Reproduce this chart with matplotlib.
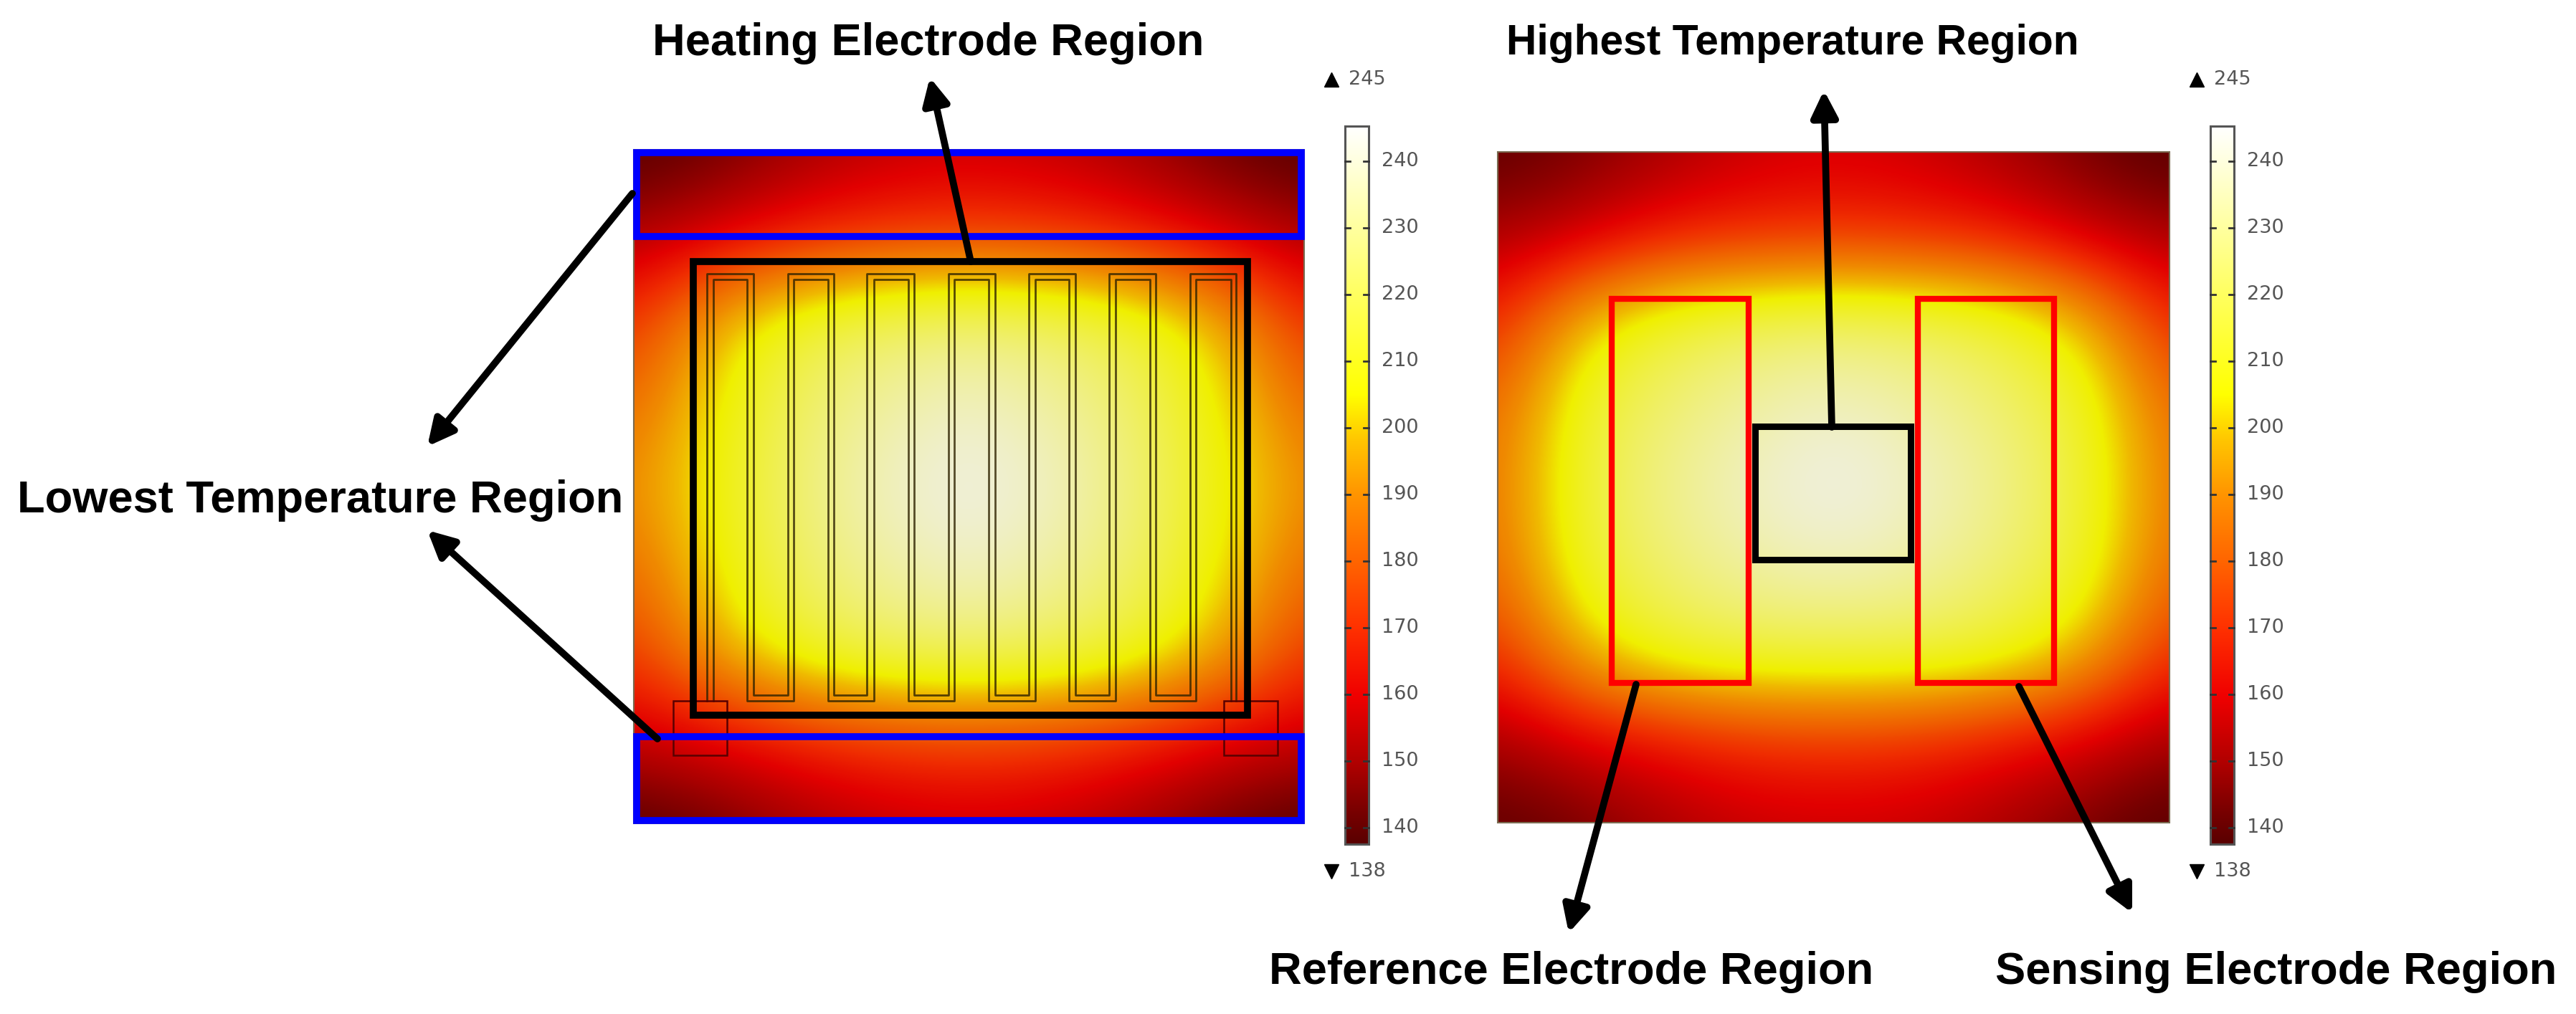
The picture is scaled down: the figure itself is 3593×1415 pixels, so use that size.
"""
Two heat maps of the sensor chip, left with the heater outlined, right with
the electrodes outlined. Axes run in picture pixels.
"""

import numpy as np
import matplotlib
matplotlib.use("Agg")
import matplotlib.pyplot as plt
from matplotlib.colors import LinearSegmentedColormap, Normalize
from matplotlib.patches import Rectangle

W, H = 3593, 1415
T_MIN, T_MAX = 138, 245

# temperature, 9 x 9 samples top to bottom
TEMP_LEFT = [
    [138, 142, 149, 154, 156, 154, 149, 142, 138],
    [150, 157, 165, 170, 172, 170, 165, 157, 150],
    [170, 198, 214, 221, 224, 221, 214, 198, 170],
    [182, 205, 222, 232, 238, 232, 222, 205, 182],
    [190, 208, 225, 238, 244, 238, 225, 208, 190],
    [182, 205, 222, 232, 238, 232, 222, 205, 182],
    [172, 196, 212, 220, 222, 220, 212, 196, 172],
    [155, 160, 167, 172, 174, 172, 167, 160, 155],
    [138, 142, 149, 154, 156, 154, 149, 142, 138],
]
TEMP_RIGHT = [
    [140, 144, 150, 156, 158, 156, 150, 143, 138],
    [150, 155, 165, 168, 170, 168, 165, 155, 150],
    [168, 200, 214, 220, 222, 220, 214, 200, 168],
    [182, 212, 224, 232, 238, 232, 224, 212, 182],
    [185, 214, 229, 238, 245, 238, 229, 214, 185],
    [182, 212, 224, 232, 236, 232, 224, 212, 182],
    [170, 198, 212, 216, 216, 216, 212, 198, 170],
    [150, 158, 165, 170, 172, 170, 165, 158, 150],
    [140, 143, 150, 155, 156, 155, 150, 143, 138],
]

# colour scale
CMAP_TEMPS = [138, 143, 150, 160, 170, 180, 190, 198, 205, 210, 220, 230, 240, 245]
CMAP_COLORS = ["#5a0000", "#7a0000", "#b00000", "#f00000", "#ff3000", "#ff6400",
               "#ff9400", "#ffc400", "#ffff00", "#ffff20", "#ffff60", "#ffffa0",
               "#ffffe0", "#ffffff"]
CBAR_TICKS = [140, 150, 160, 170, 180, 190, 200, 210, 220, 230, 240]

# heater track, x positions of the two traced lines
TRACK_OUTER_X = [180, 272, 340, 432, 497, 592, 660, 752, 820, 912, 980, 1072, 1140, 1232]
TRACK_INNER_X = [192, 260, 352, 420, 512, 580, 672, 740, 832, 900, 992, 1060, 1152, 1222]

LABELS = [
    ("Heating Electrode Region", 1295, 61, 45.5),
    ("Highest Temperature Region", 2500, 61, 42.3),
    ("Lowest Temperature Region", 447, 698, 45.5),
    ("Reference Electrode Region", 2192, 1356, 45.5),
    ("Sensing Electrode Region", 3175, 1356, 45.5),
]
ARROWS = [
    ((1354, 365), (1297, 108)),
    ((882, 270), (596, 623)),
    ((917, 1031), (596, 740)),
    ((2555, 596), (2544, 126)),
    ((2282, 955), (2188, 1302)),
    ((2816, 958), (2974, 1274)),
]

cmap = LinearSegmentedColormap.from_list(
    "bar", [((t - T_MIN) / (T_MAX - T_MIN), c) for t, c in zip(CMAP_TEMPS, CMAP_COLORS)], N=512)
# the rendered surface is a bit duller than the bar
field_cmap = LinearSegmentedColormap.from_list(
    "field", cmap(np.linspace(0, 1, 512)) * np.array([0.94, 0.94, 0.94, 1.0]), N=512)
norm = Normalize(T_MIN, T_MAX)


def draw_field(ax, temps, x0, x1, y0, y1):
    temps = np.array(temps, dtype=float)
    dx = (x1 - x0) / (temps.shape[1] - 1) / 2
    dy = (y1 - y0) / (temps.shape[0] - 1) / 2
    im = ax.imshow(temps, cmap=field_cmap, norm=norm, interpolation="bicubic", aspect="auto",
                   extent=[x0 - dx, x1 + dx, y1 + dy, y0 - dy], zorder=1)
    frame = Rectangle((x0, y0), x1 - x0, y1 - y0, fc="none", ec="#7a6a50", lw=1.5, zorder=2)
    ax.add_patch(frame)
    im.set_clip_path(frame)


def box(ax, x0, y0, x1, y1, color, lw, zorder=4):
    ax.add_patch(Rectangle((x0, y0), x1 - x0, y1 - y0, fc="none", ec=color, lw=lw,
                           joinstyle="miter", zorder=zorder))


def draw_colorbar(ax, x0):
    x1, y0, y1 = x0 + 33, 176, 1178
    grad = np.linspace(T_MAX, T_MIN, 512).reshape(-1, 1)
    ax.imshow(grad, cmap=cmap, norm=norm, aspect="auto", extent=[x0, x1, y1, y0], zorder=1)
    ax.add_patch(Rectangle((x0, y0), x1 - x0, y1 - y0, fc="none", ec="#555555", lw=2.2, zorder=2))
    for t in CBAR_TICKS:
        y = 1155 - (t - 140) * 9.3
        ax.plot([x0, x0 + 7], [y, y], color="#333333", lw=2, zorder=3)
        ax.plot([x1 - 7, x1], [y, y], color="#333333", lw=2, zorder=3)
        ax.text(x0 + 51, y, str(t), fontsize=19.5, color="#555555", va="center", ha="left",
                family="DejaVu Sans")
    ax.plot(x0 - 19, 111, marker="^", ms=15, color="black", zorder=3)
    ax.plot(x0 - 19, 1216, marker="v", ms=15, color="black", zorder=3)
    ax.text(x0 + 5, 111, str(T_MAX), fontsize=19.5, color="#555555", va="center", family="DejaVu Sans")
    ax.text(x0 + 5, 1216, str(T_MIN), fontsize=19.5, color="#555555", va="center", family="DejaVu Sans")


def zx(v):
    return 860 + v / 1.4255


def zy(v):
    return 180 + v / 1.568


def draw_track(ax, xs, top, bottom, end):
    pts = [(zx(xs[0]), zy(end))]
    for i in range(0, len(xs), 2):
        pts += [(zx(xs[i]), zy(top)), (zx(xs[i + 1]), zy(top))]
        if i + 2 < len(xs):
            pts += [(zx(xs[i + 1]), zy(bottom)), (zx(xs[i + 2]), zy(bottom))]
    pts.append((zx(xs[-1]), zy(end)))
    ax.plot(*zip(*pts), color="#2e2200", lw=2, alpha=0.8, zorder=3)


fig = plt.figure(figsize=(W / 100, H / 100), dpi=100)
ax = fig.add_axes([0, 0, 1, 1])

# left panel
draw_field(ax, TEMP_LEFT, 884, 1819, 209, 1149)
draw_colorbar(ax, 1876)
draw_track(ax, TRACK_OUTER_X, 317, 1238, 1252)
draw_track(ax, TRACK_INNER_X, 330, 1252, 1252)

# contact pads
box(ax, zx(113), zy(1252), zx(220), zy(1370), "#5a0000", 1.8, zorder=3)
box(ax, zx(1207), zy(1252), zx(1315), zy(1370), "#5a0000", 1.8, zorder=3)

box(ax, 967, 365, 1740, 998, "black", 7)
box(ax, 888, 213, 1815, 330, "#0000ff", 7, zorder=5)
box(ax, 888, 1028, 1815, 1145, "#0000ff", 7, zorder=5)

# right panel
draw_field(ax, TEMP_RIGHT, 2089, 3026, 212, 1148)
draw_colorbar(ax, 3083)
box(ax, 2248, 417, 2439, 953, "#ff0000", 6)
box(ax, 2675, 417, 2865, 953, "#ff0000", 6)
box(ax, 2448, 595, 2665, 781, "black", 6.5)

for tail, tip in ARROWS:
    ax.annotate("", xy=tip, xytext=tail, zorder=6,
                arrowprops=dict(arrowstyle="-|>,head_length=1.0,head_width=0.5", color="black",
                                lw=7, shrinkA=0, shrinkB=0, mutation_scale=22))

for text, x, y, size in LABELS:
    ax.text(x, y, text, fontsize=size, fontweight="bold", family="Liberation Sans",
            ha="center", va="center", color="black", zorder=7)

ax.set_xlim(0, W)
ax.set_ylim(H, 0)
ax.axis("off")
fig.savefig("out.png", dpi=100)
